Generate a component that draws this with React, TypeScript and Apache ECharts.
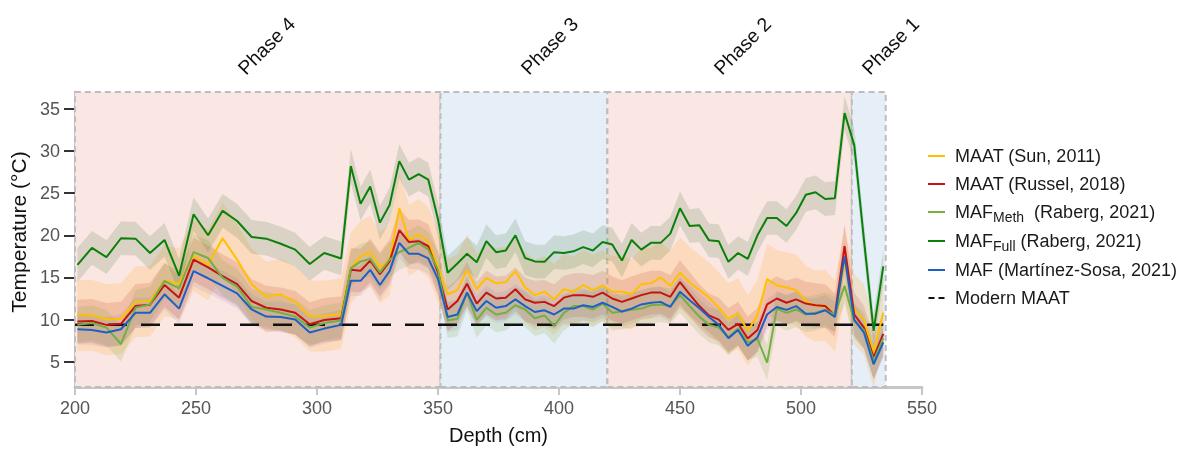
import React, { useEffect, useRef } from 'react';
import * as echarts from 'echarts';

// ---------------- data ----------------
const depth = [
  201, 207, 213, 219, 225, 231, 237, 243, 249, 255, 261, 267, 273, 279, 285, 291, 297, 303,
  310,
  314, 318, 322, 326, 330, 334, 338, 342, 346, 350,
  354, 358, 362, 366, 370, 374, 378, 382, 386, 390, 394, 398, 402, 406, 410, 414, 418, 422, 426, 430,
  434, 438, 442, 446, 450, 454, 458, 462, 466, 470, 474, 478, 482, 486, 490, 494, 498, 502, 506, 510,
  514, 518, 522, 526, 530, 534,
];

const maatSun = [
  10.5, 10.5, 10.0, 10.1, 12.1, 12.2, 14.6, 14.25, 17.6, 16.5, 19.65, 17.1, 14.2, 12.7, 13.0, 12.1, 10.4, 10.4,
  10.7,
  16.1, 17.5, 18.1, 16.15, 17.1, 23.2, 19.4, 20.1, 19.2, 16.3,
  13.0, 13.5, 15.9, 13.6, 14.95, 14.3, 14.45, 15.75, 13.8, 12.9, 13.3, 12.4, 13.6, 13.3, 14.1, 13.5, 14.05, 13.3, 13.3, 13.0,
  14.2, 14.3, 15.0, 14.0, 15.55, 14.4, 13.5, 12.6, 11.4, 10.1, 10.7, 8.65, 10.5, 14.8, 14.05, 13.8, 13.5, 12.2, 11.6, 11.7,
  10.4, 16.9, 11.2, 10.0, 6.1, 10.8,
];

const maatRussell = [
  9.76, 9.84, 9.37, 9.5, 11.6, 11.77, 14.1, 12.6, 17.1, 16.2, 15.15, 14.2, 12.2, 11.4, 11.2, 10.8, 9.45, 9.95,
  10.15,
  15.9, 15.8, 17.0, 15.4, 16.9, 20.6, 19.2, 19.3, 18.7, 15.55,
  11.2, 12.2, 14.25, 11.9, 13.2, 12.5, 12.6, 13.6, 12.4, 12.0, 12.1, 11.6, 12.6, 12.9, 12.9, 12.7, 13.2, 12.5, 12.1, 12.5,
  12.9, 13.2, 13.2, 12.7, 14.45, 13.0, 11.6, 10.5, 10.0, 8.77, 9.5, 7.75, 8.77, 11.8, 12.5, 12.0, 12.4, 11.9, 11.7, 11.6,
  10.5, 18.7, 10.6, 9.05, 5.5, 8.3,
];

const mafMeth = [
  9.37, 9.6, 9.05, 7.1, 11.4, 11.8, 14.6, 13.7, 18.0, 17.3, 14.95, 13.9, 11.5, 11.2, 10.8, 10.35, 9.05, 9.6,
  9.9,
  16.1, 16.9, 17.2, 15.6, 17.1, 18.0, 18.5, 19.1, 18.3, 15.9,
  9.9, 10.1, 13.2, 9.95, 11.4, 10.6, 10.8, 11.7, 11.2, 10.15, 10.5, 9.25, 10.8, 11.6, 11.6, 11.2, 11.9, 10.8, 10.95, 11.15,
  11.3, 11.7, 11.8, 11.6, 12.9, 11.6, 10.35, 9.37, 9.05, 7.9, 8.93, 7.3, 7.7, 4.9, 11.3, 10.8, 11.2, 10.6, 10.8, 11.15,
  10.6, 14.0, 9.8, 8.77, 5.1, 7.8,
];

const mafFull = [
  16.5, 18.5, 17.4, 19.65, 19.6, 17.9, 19.45, 15.2, 22.5, 20.0, 22.9, 21.7, 19.8, 19.6, 19.0, 18.3, 16.6, 17.9,
  17.25,
  28.2, 23.75, 25.8, 21.5, 23.6, 28.8, 26.6, 27.25, 26.6, 21.9,
  15.55, 16.65, 17.8, 16.8, 19.3, 18.0, 18.2, 20.0, 17.3, 16.9, 16.85, 18.0, 17.9, 18.1, 18.6, 18.2, 19.2, 18.9, 17.0, 19.45,
  18.3, 19.1, 19.1, 20.2, 23.2, 21.1, 21.2, 19.4, 19.3, 16.85, 17.9, 17.2, 20.0, 22.05, 22.05, 21.1, 22.65, 24.8, 25.1, 24.3,
  24.4, 34.5, 30.7, 19.5, 8.65, 16.3,
];

const mafMS = [
  8.85, 8.77, 8.46, 8.85, 10.8, 10.8, 13.0, 11.3, 15.75, 14.9, 14.0, 13.1, 11.2, 10.35, 10.3, 10.0, 8.46, 8.93,
  9.37,
  14.6, 14.6, 15.9, 14.1, 15.75, 19.1, 17.8, 17.8, 17.25, 14.8,
  10.3, 10.6, 13.2, 11.0, 12.2, 11.4, 11.6, 12.4, 11.6, 10.9, 11.1, 10.6, 11.3, 11.3, 11.7, 11.5, 12.0, 11.5, 10.95, 11.3,
  11.8, 12.0, 12.1, 11.5, 13.3, 12.3, 11.35, 10.3, 9.37, 7.8, 8.77, 6.9, 7.9, 10.6, 11.5, 11.15, 11.6, 10.7, 10.7, 11.1,
  10.3, 17.5, 10.0, 8.46, 4.7, 7.3,
];

// calibration uncertainties (± °C)
const errSun = 4.2;
const errRussell = 2.6;
const errMeth = 2.1;
const errFull = 2.0;
const errMS = 1.8;

const modernMAAT = 9.4;

const phaseNames = ['Phase 4', 'Phase 3', 'Phase 2', 'Phase 1'];
const phaseStart = [200, 351, 420, 521];
const phaseEnd = [351, 420, 521, 535];

const yTicks = [5, 10, 15, 20, 25, 30, 35];

const seriesNames = [
  'MAAT (Sun, 2011)',
  'MAAT (Russel, 2018)',
  'MAF Meth (Raberg, 2021)',
  'MAF Full (Raberg, 2021)',
  'MAF (Martínez-Sosa, 2021)',
  'Modern MAAT',
];

// ---------------- styling ----------------
const FONT = '"Liberation Sans", Arial, Helvetica, sans-serif';
const C_SUN = '#FFC000';
const C_RUS = '#C81212';
const C_METH = '#72B043';
const C_FULL = '#0A800A';
const C_MS = '#1E5FC4';
const PINK = '#FAE6E2';
const BLUE = '#E6EEF7';

function band(vals: number[], err: number, fill: string) {
  return {
    type: 'custom',
    silent: true,
    z: 2,
    data: depth.map((d, i) => [d, vals[i] - err, vals[i] + err]),
    encode: { x: 0, y: [1, 2] },
    renderItem: (params: any, api: any) => {
      if (params.dataIndex !== 0) return null;
      const upper = depth.map((d, i) => api.coord([d, vals[i] + err]));
      const lower = depth.map((d, i) => api.coord([d, vals[i] - err])).reverse();
      return {
        type: 'polygon',
        shape: { points: upper.concat(lower) },
        style: { fill },
      };
    },
  };
}

function line(name: string, vals: number[], color: string) {
  return {
    type: 'line',
    name,
    z: 4,
    data: depth.map((d, i) => [d, vals[i]]),
    symbol: 'none',
    showSymbol: false,
    lineStyle: { color, width: 2 },
    itemStyle: { color },
  };
}

export default function App() {
  const ref = useRef<HTMLDivElement>(null);

  useEffect(() => {
    const chart = echarts.init(ref.current!, null, { renderer: 'svg' });

    const phaseLabelPos = [
      [248, 78],
      [531, 78],
      [724, 78],
      [872, 78],
    ];

    const option: any = {
      animation: false,
      textStyle: { fontFamily: FONT },
      grid: { left: 75, right: 269, top: 92, bottom: 61, containLabel: false },
      xAxis: {
        type: 'value',
        min: 200,
        max: 550,
        interval: 50,
        name: 'Depth (cm)',
        nameLocation: 'middle',
        nameGap: 38,
        nameTextStyle: { fontSize: 20, color: '#111', fontFamily: FONT },
        axisLine: { show: true, lineStyle: { color: '#C6C6C6', width: 3 } },
        axisTick: { show: true, length: 8, lineStyle: { color: '#C6C6C6', width: 2 } },
        axisLabel: { fontSize: 18, color: '#555', margin: 12, fontFamily: FONT },
        splitLine: { show: false },
      },
      yAxis: {
        type: 'value',
        min: 2,
        max: 37,
        name: 'Temperature (°C)',
        nameLocation: 'middle',
        nameGap: 43,
        nameRotate: 90,
        nameTextStyle: { fontSize: 21, color: '#111', fontFamily: FONT, padding: [0, 0, 0, 15] },
        axisLine: { show: true, lineStyle: { color: '#C6C6C6', width: 3 } },
        axisTick: { show: true, length: 11, customValues: yTicks, lineStyle: { color: '#333', width: 2 } },
        axisLabel: { fontSize: 18, color: '#555', margin: 15, customValues: yTicks, fontFamily: FONT },
        splitLine: { show: false },
      },
      legend: {
        orient: 'vertical',
        left: 923,
        top: 140,
        itemWidth: 17,
        itemHeight: 2,
        itemGap: 6,
        icon: 'rect',
        data: seriesNames.map((n) =>
          n === 'Modern MAAT'
            ? {
                name: n,
                icon: 'path://M0 0H6V2H0Z M10 0H16V2H10Z',
                itemStyle: { color: '#111' },
              }
            : { name: n }
        ),
        formatter: (name: string) => {
          if (name === 'MAF Meth (Raberg, 2021)') return '{m|MAF}{s|Meth}{m|  (Raberg, 2021)}';
          if (name === 'MAF Full (Raberg, 2021)') return '{m|MAF}{s|Full}{m| (Raberg, 2021)}';
          return name;
        },
        textStyle: {
          fontSize: 18,
          color: '#1a1a1a',
          fontFamily: FONT,
          lineHeight: 22,
          padding: [0, 0, 0, 5],
          rich: {
            m: { fontSize: 18, color: '#1a1a1a', fontFamily: FONT, lineHeight: 22 },
            s: { fontSize: 14, color: '#1a1a1a', fontFamily: FONT, padding: [10, 0, 0, 0] },
          },
        },
      },
      graphic: phaseNames.map((t, i) => ({
        type: 'text',
        x: phaseLabelPos[i][0],
        y: phaseLabelPos[i][1],
        rotation: Math.PI / 4,
        silent: true,
        style: {
          text: t,
          fontSize: 19.5,
          fontFamily: FONT,
          fill: '#111',
          textAlign: 'left',
          verticalAlign: 'bottom',
        },
      })),
      series: [
        band(maatSun, errSun, 'rgba(255,185,80,0.25)'),
        band(maatRussell, errRussell, 'rgba(185,40,30,0.15)'),
        band(mafMeth, errMeth, 'rgba(120,165,60,0.17)'),
        band(mafFull, errFull, 'rgba(40,100,30,0.15)'),
        band(mafMS, errMS, 'rgba(70,80,200,0.09)'),
        line(seriesNames[0], maatSun, C_SUN),
        line(seriesNames[1], maatRussell, C_RUS),
        line(seriesNames[2], mafMeth, C_METH),
        line(seriesNames[3], mafFull, C_FULL),
        line(seriesNames[4], mafMS, C_MS),
        {
          type: 'line',
          name: seriesNames[5],
          z: 3,
          data: [
            [200, modernMAAT],
            [depth[depth.length - 1], modernMAAT],
          ],
          symbol: 'none',
          showSymbol: false,
          lineStyle: { color: '#111', width: 2.5, type: [19, 14] },
          itemStyle: { color: '#111' },
          markArea: {
            silent: true,
            label: { show: false },
            data: phaseNames.map((n, i) => [
              {
                xAxis: phaseStart[i],
                itemStyle: {
                  color: i % 2 === 0 ? PINK : BLUE,
                  borderColor: '#BDBDBD',
                  borderWidth: 2,
                  borderType: [6, 4],
                },
              },
              { xAxis: phaseEnd[i] },
            ]),
          },
        },
      ],
    };

    chart.setOption(option);
    return () => chart.dispose();
  }, []);

  return (
    <div
      ref={ref}
      style={{ position: 'fixed', left: 0, top: 0, width: 1191, height: 450 }}
    />
  );
}
